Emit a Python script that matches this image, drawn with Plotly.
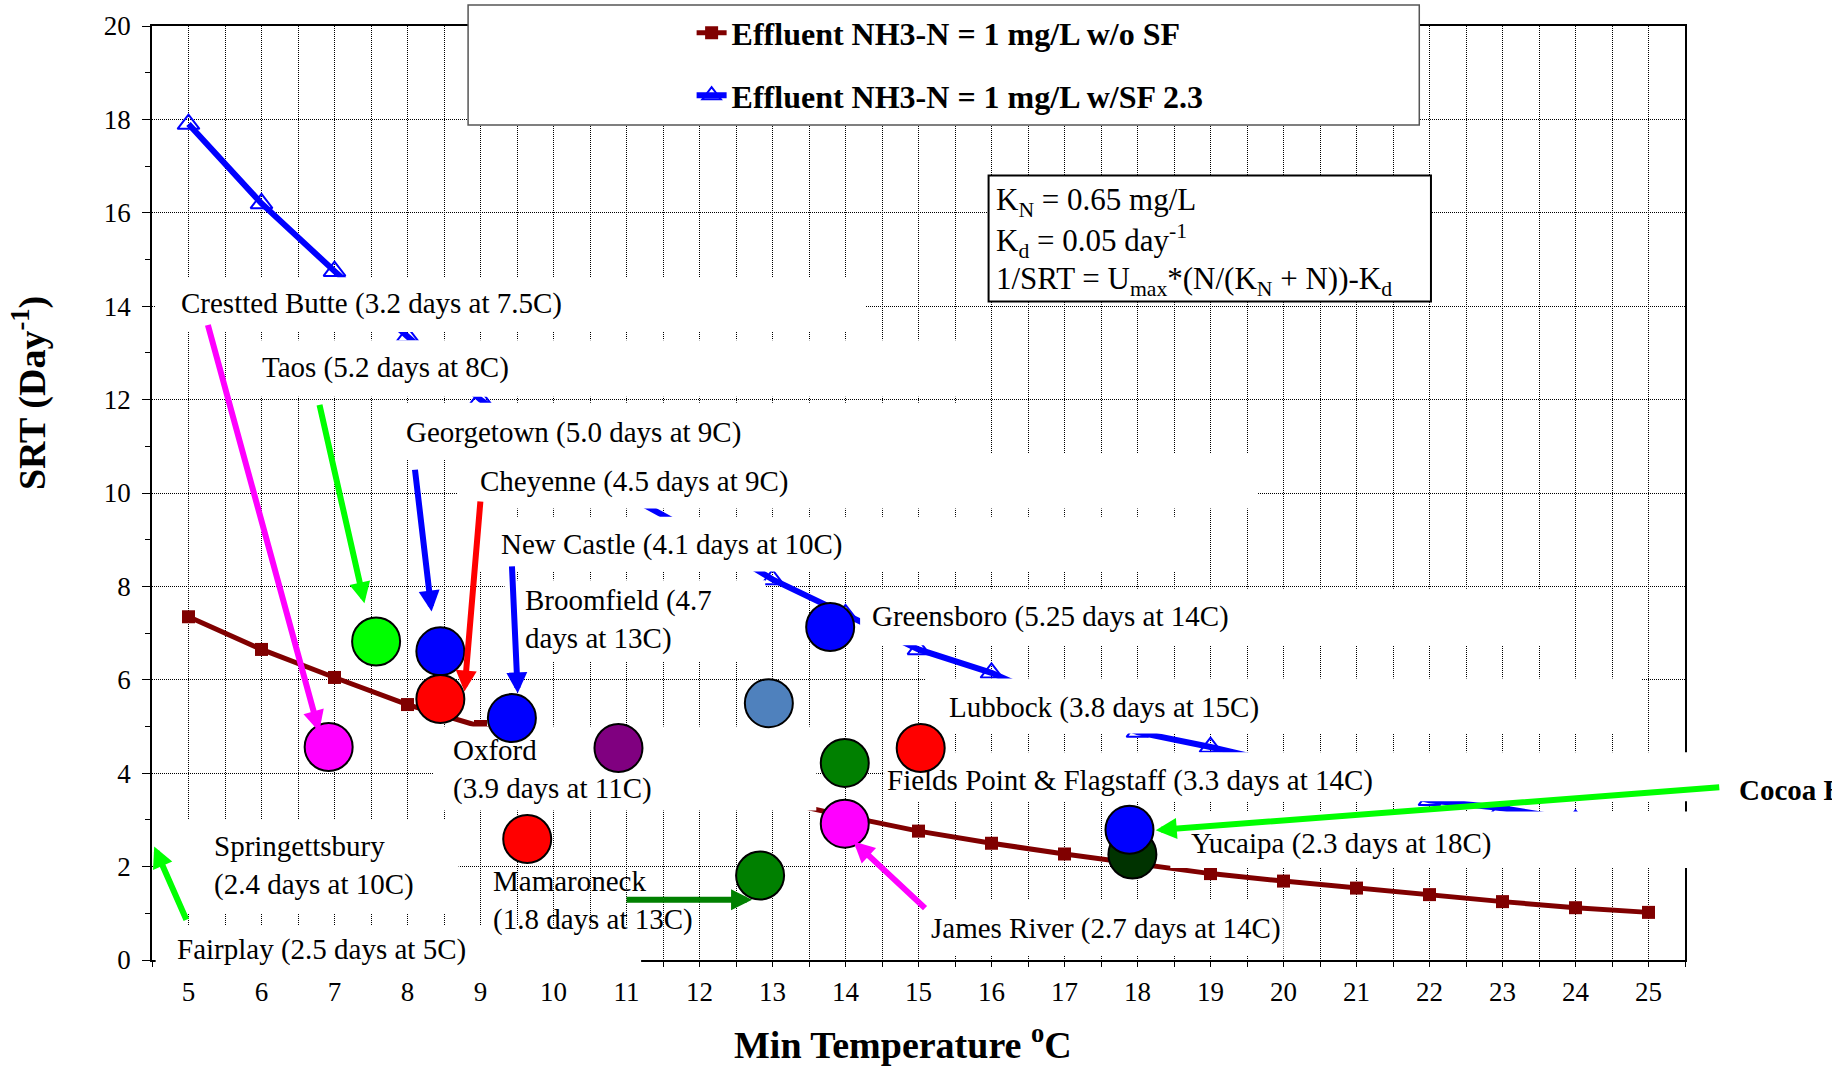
import plotly.graph_objects as go

# ---------------- data ----------------
temps = list(range(5, 26))
srt_no_sf = [7.35, 6.65, 6.05, 5.47, 5.0, 4.52, 4.12, 3.76, 3.43, 3.08, 2.76,
             2.5, 2.27, 2.05, 1.85, 1.69, 1.54, 1.4, 1.25, 1.12, 1.02]
srt_sf = [17.9, 16.2, 14.75, 13.35, 12.0, 10.9, 9.95, 9.1, 8.15, 7.4, 6.65,
          6.15, 5.45, 4.88, 4.56, 4.2, 3.8, 3.42, 3.25, 3.0, 2.8]

site_temp = [7.57, 8.45, 8.45, 9.43, 6.92, 10.89, 9.64, 12.95, 13.79, 13.99,
             15.03, 13.99, 12.83, 17.93, 17.89]
site_srt = [6.82, 6.61, 5.59, 5.18, 4.56, 4.54, 2.59, 5.5, 7.13, 4.22,
            4.54, 2.92, 1.81, 2.26, 2.79]
site_colors = ["#00FF00", "#0000FF", "#FF0000", "#0000FF", "#FF00FF", "#800080",
               "#FF0000", "#4F81BD", "#0000FF", "#008000", "#FF0000", "#FF00FF",
               "#008000", "#003300", "#0000FF"]

# label text, left x, middle y
labels = [
    ("Crestted Butte (3.2 days at 7.5C)", 4.87, 14.05),
    ("Taos (5.2 days at 8C)", 5.98, 12.68),
    ("Georgetown (5.0 days at 9C)", 7.95, 11.3),
    ("Cheyenne (4.5 days at 9C)", 8.96, 10.25),
    ("New Castle (4.1 days at 10C)", 9.26, 8.9),
    ("Broomfield (4.7<br>days at 13C)", 9.58, 7.3),
    ("Greensboro (5.25 days at 14C)", 14.34, 7.35),
    ("Lubbock (3.8 days at 15C)", 15.39, 5.4),
    ("Oxford<br>(3.9 days at 11C)", 8.6, 4.08),
    ("Fields Point & Flagstaff (3.3 days at 14C)", 14.54, 3.85),
    ("Yucaipa (2.3 days at 18C)", 18.71, 2.5),
    ("Springettsbury<br>(2.4 days at 10C)", 5.32, 2.03),
    ("Mamaroneck<br>(1.8 days at 13C)", 9.15, 1.28),
    ("James River (2.7 days at 14C)", 15.15, 0.68),
    ("Fairplay (2.5 days at 5C)", 4.81, 0.22),
]

# arrows: tail x, tail y, head x, head y, colour
arrows = [
    (5.26, 13.63, 6.79, 4.89, "#FF00FF"),
    (6.79, 11.92, 7.41, 7.64, "#00FF00"),
    (8.10, 10.53, 8.33, 7.46, "#0000FF"),
    (9.00, 9.85, 8.78, 5.75, "#FF0000"),
    (9.43, 8.46, 9.51, 5.71, "#0000FF"),
    (4.98, 0.83, 4.53, 2.43, "#00FF00"),
    (10.98, 1.29, 12.72, 1.29, "#008000"),
    (15.11, 1.08, 14.11, 2.54, "#FF00FF"),
    (25.99, 3.70, 18.25, 2.78, "#00FF00"),
]

# white backgrounds of the text boxes (x0, x1, y0, y1 in axis units)
label_boxes = [
    (4.55, 14.27, 13.45, 14.62),
    (5.8, 15.8, 12.06, 13.27),
    (7.8, 15.8, 10.71, 11.93),
    (8.68, 19.65, 9.67, 10.85),
    (8.9, 18.75, 8.32, 9.49),
    (9.33, 12.9, 6.4, 8.13),
    (14.2, 23.75, 6.74, 7.95),
    (15.1, 24.9, 4.85, 6.03),
    (8.35, 13.6, 3.2, 5.0),
    (14.53, 26.5, 3.4, 4.45),
    (18.45, 26.5, 1.97, 3.18),
    (15.1, 20.0, 0.1, 1.29),
    (4.55, 8.7, 1.0, 3.0),
    (4.55, 11.2, -0.2, 0.75),
]

X_RANGE = [4.5, 25.5]
Y_RANGE = [0, 20]
SERIF = "Liberation Serif, Times New Roman, serif"


def dx(v):
    return (v - X_RANGE[0]) / (X_RANGE[1] - X_RANGE[0])


def dy(v):
    return (v - Y_RANGE[0]) / (Y_RANGE[1] - Y_RANGE[0])


fig = go.Figure()
fig.add_trace(go.Scatter(
    x=temps, y=srt_no_sf, mode="lines+markers",
    name="Effluent NH3-N = 1 mg/L w/o SF", legendgroup="a",
    line=dict(color="#800000", width=5),
    marker=dict(symbol="square", size=13, color="#800000"),
))
fig.add_trace(go.Scatter(
    x=temps, y=srt_sf, mode="lines+markers",
    name="Effluent NH3-N = 1 mg/L w/SF 2.3", legendgroup="b",
    line=dict(color="#0000FF", width=6),
    marker=dict(symbol="triangle-up-open", size=19, color="#0000FF",
                line=dict(width=2, color="#0000FF")),
))

shapes = []
for (x0, x1, y0, y1) in label_boxes:
    shapes.append(dict(type="rect", xref="x domain", yref="y domain",
                       x0=dx(x0), x1=dx(x1), y0=dy(y0), y1=dy(y1),
                       fillcolor="white", line=dict(width=0), layer="above"))
for cx, cy, col in zip(site_temp, site_srt, site_colors):
    shapes.append(dict(type="circle", xref="x", yref="y",
                       xsizemode="pixel", ysizemode="pixel",
                       xanchor=cx, yanchor=cy, x0=-24, x1=24, y0=-24, y1=24,
                       fillcolor=col, line=dict(color="black", width=2),
                       layer="above"))
# legend frame
shapes.append(dict(type="rect", xref="x domain", yref="y domain",
                   x0=dx(8.83), x1=dx(21.86), y0=dy(17.88), y1=dy(20.45),
                   fillcolor="white", line=dict(color="#555555", width=1.5),
                   layer="above"))
# equation frame
shapes.append(dict(type="rect", xref="x domain", yref="y domain",
                   x0=dx(15.96), x1=dx(22.02), y0=dy(14.1), y1=dy(16.8),
                   fillcolor="white", line=dict(color="black", width=2),
                   layer="above"))

annotations = []
for text, x, y in labels:
    annotations.append(dict(text=text, x=x, y=y, xref="x", yref="y",
                            xanchor="left", yanchor="middle", align="left",
                            showarrow=False,
                            font=dict(family=SERIF, size=29, color="black")))
annotations.append(dict(text="<b>Cocoa Beach</b>", x=dx(26.21), y=dy(3.65),
                        xref="paper", yref="paper",
                        xanchor="left", yanchor="middle", showarrow=False,
                        font=dict(family=SERIF, size=29, color="black")))
for tx, ty, hx, hy, col in arrows:
    annotations.append(dict(text="", x=hx, y=hy, ax=tx, ay=ty,
                            xref="x", yref="y", axref="x", ayref="y",
                            showarrow=True, arrowhead=2, arrowsize=0.7,
                            arrowwidth=6, arrowcolor=col, standoff=0))
eq_lines = [
    ("K<sub>N</sub> = 0.65 mg/L", 16.23),
    ("K<sub>d</sub> = 0.05 day<sup>-1</sup>", 15.4),
    ("1/SRT = U<sub>max</sub>*(N/(K<sub>N</sub> + N))-K<sub>d</sub>", 14.55),
]
for text, y in eq_lines:
    annotations.append(dict(text=text, x=16.03, y=y, xref="x", yref="y",
                            xanchor="left", yanchor="middle", showarrow=False,
                            font=dict(family=SERIF, size=31, color="black")))
# axis titles
annotations.append(dict(text="<b>Min Temperature <sup>o</sup>C</b>", x=0.4899, y=-0.088,
                        xref="paper", yref="paper", xanchor="center", yanchor="middle",
                        showarrow=False, font=dict(family=SERIF, size=38, color="black")))
annotations.append(dict(text="<b>SRT (Day<sup>-1</sup>)</b>", x=-0.0802, y=0.607,
                        xref="paper", yref="paper", xanchor="center", yanchor="middle",
                        textangle=-90, showarrow=False,
                        font=dict(family=SERIF, size=38, color="black")))

grid = dict(gridcolor="#000000", griddash="1px,1px", gridwidth=1)

fig.update_layout(
    width=1832, height=1068,
    margin=dict(l=152, r=147, t=26, b=108, autoexpand=False),
    paper_bgcolor="white", plot_bgcolor="white",
    font=dict(family=SERIF, color="black"),
    showlegend=True,
    legend=dict(x=0.352, y=0.995, xanchor="left", yanchor="top",
                yref="container",
                bgcolor="rgba(0,0,0,0)", borderwidth=0,
                tracegroupgap=18,
                font=dict(family=SERIF, size=32, color="black", weight="bold")),
    shapes=shapes,
    annotations=annotations,
    xaxis=dict(range=X_RANGE, tickmode="linear", tick0=5, dtick=1,
               ticks="outside", ticklen=5, tickcolor="black",
               showline=True, linecolor="black", linewidth=1.5, mirror=True,
               zeroline=False, showgrid=True, **grid,
               minor=dict(dtick=0.5, showgrid=True, ticks="outside", ticklen=5,
                          tickcolor="black", **grid),
               tickfont=dict(family=SERIF, size=27, color="black"),
               ticklabelstandoff=2),
    yaxis=dict(range=Y_RANGE, tickmode="linear", tick0=0, dtick=2,
               ticks="outside", ticklen=8, tickcolor="black",
               showline=True, linecolor="black", linewidth=1.5, mirror=True,
               zeroline=False, showgrid=True, **grid,
               minor=dict(dtick=1, showgrid=False, ticks="outside", ticklen=5,
                          tickcolor="black"),
               tickfont=dict(family=SERIF, size=27, color="black"),
               ticklabelstandoff=6),
)

fig.write_html("out.html")
